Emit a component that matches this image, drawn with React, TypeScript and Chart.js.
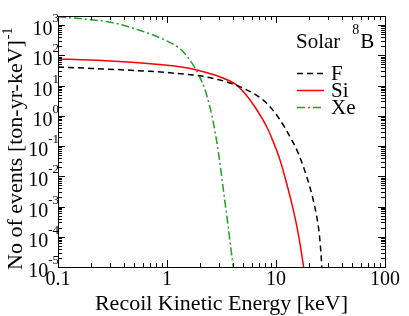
import React, { useEffect, useRef } from "react";
import { Chart, registerables } from "chart.js";

Chart.register(...registerables);

// ---- data ----
const energyF = [0.1, 0.2, 0.4, 0.7, 1, 1.5, 2, 3, 4, 5, 6.5, 8.22, 10.43, 13.44, 16.26, 19.13, 21.39, 23.63, 25.07, 26.27, 26.7];
const eventsF = [41, 37, 33, 29.5, 27, 23.5, 21, 15.5, 11.5, 8.2, 5, 2.6, 0.914, 0.204, 0.0506, 0.0097, 0.00241, 0.00046, 0.000106, 0.0000117, 0.0000037];

const energySi = [0.1, 0.2, 0.4, 0.7, 1, 1.5, 2, 3, 4.21, 5.19, 6.41, 8.22, 9.39, 10.88, 12.49, 14.41, 16.08, 17.8, 18.65];
const eventsSi = [76, 70, 61, 53, 47, 39, 31, 20, 11.3, 5.47, 1.96, 0.436, 0.145, 0.0346, 0.006, 0.00077, 0.000115, 0.0000117, 0.0000037];

const energyXe = [0.1, 0.2, 0.3, 0.55, 0.96, 1.3, 1.57, 1.87, 2.0, 2.2, 2.4, 2.6, 2.8, 3.0, 3.3, 3.6, 3.9, 4.2];
const eventsXe = [1900, 1500, 1250, 690, 320, 170, 82, 31, 19, 8.5, 3.0, 0.9, 0.22, 0.045, 0.0033, 0.0003, 0.00003, 0.000004];

const seriesNames = ["F", "Si", "Xe"];
const xTickValues = [0.1, 1, 10, 100];
const xTickLabels = ["0.1", "1", "10", "100"];
const yTickExponents = [-5, -4, -3, -2, -1, 0, 1, 2, 3];
const xTitle = "Recoil Kinetic Energy [keV]";
const yTitle = "No of events [ton-yr-keV]";
const yTitleSup = "-1";
const legendTitle = "Solar";
const legendTitleSup = "8";
const legendTitleEnd = "B";

const X_MIN = 0.1;
const X_MAX = 100;
const Y_MIN = 1e-5;
const Y_MAX = 2000;

const FONT = '"Liberation Serif", "DejaVu Serif", serif';
const COLORS = ["#000000", "#ff0000", "#22a022"];
const DASHES: number[][] = [[6, 4], [], [8, 3, 2, 3]];

const decorPlugin = {
  id: "decor",
  afterDraw(chart: any) {
    const ctx: CanvasRenderingContext2D = chart.ctx;
    const a = chart.chartArea;
    const xs = chart.scales.x;
    const ys = chart.scales.y;
    ctx.save();
    ctx.strokeStyle = "#000";
    ctx.fillStyle = "#000";
    ctx.lineWidth = 1;
    ctx.setLineDash([]);
    ctx.strokeRect(Math.round(a.left) + 0.5, Math.round(a.top) + 0.5, Math.round(a.right - a.left), Math.round(a.bottom - a.top));

    ctx.beginPath();
    for (let d = -1; d <= 2; d++) {
      for (let m = 1; m <= 9; m++) {
        const v = m * Math.pow(10, d);
        if (v > X_MAX * 1.0001) break;
        const px = Math.round(xs.getPixelForValue(v)) + 0.5;
        const len = m === 1 ? 7 : 4;
        ctx.moveTo(px, a.bottom);
        ctx.lineTo(px, a.bottom - len);
        ctx.moveTo(px, a.top);
        ctx.lineTo(px, a.top + len);
      }
    }
    for (let d = -5; d <= 3; d++) {
      for (let m = 1; m <= 9; m++) {
        const v = m * Math.pow(10, d);
        if (v > Y_MAX * 1.0001) break;
        const py = Math.round(ys.getPixelForValue(v)) + 0.5;
        const len = m === 1 ? 7 : 4;
        ctx.moveTo(a.left, py);
        ctx.lineTo(a.left + len, py);
        ctx.moveTo(a.right, py);
        ctx.lineTo(a.right - len, py);
      }
    }
    ctx.stroke();

    ctx.font = `20px ${FONT}`;
    ctx.textAlign = "center";
    ctx.textBaseline = "alphabetic";
    xTickValues.forEach((v, i) => {
      const px = xs.getPixelForValue(v);
      ctx.fillText(xTickLabels[i], px, 285);
    });

    ctx.textAlign = "left";
    yTickExponents.forEach((e) => {
      const py = ys.getPixelForValue(Math.pow(10, e));
      const sup = String(e);
      ctx.font = `13px ${FONT}`;
      const supW = ctx.measureText(sup).width;
      ctx.font = `20px ${FONT}`;
      const baseW = ctx.measureText("10").width;
      const right = a.left + 1;
      ctx.fillText("10", right - supW - baseW, py + 10);
      ctx.font = `13px ${FONT}`;
      ctx.fillText(sup, right - supW, py - 3);
    });

    ctx.font = `22px ${FONT}`;
    ctx.textAlign = "center";
    ctx.fillText(xTitle, (a.left + a.right) / 2, 310);

    ctx.save();
    ctx.translate(22, 270);
    ctx.rotate(-Math.PI / 2);
    ctx.textAlign = "left";
    ctx.font = `22px ${FONT}`;
    const tw = ctx.measureText(yTitle).width;
    ctx.fillText(yTitle, 0, 0);
    ctx.font = `14px ${FONT}`;
    ctx.fillText(yTitleSup, tw + 1, -10);
    ctx.restore();

    ctx.textAlign = "left";
    ctx.font = `21px ${FONT}`;
    ctx.fillText(legendTitle, 296, 48);
    const sw = ctx.measureText(legendTitle).width;
    ctx.font = `14px ${FONT}`;
    const supX = 296 + sw + 12;
    ctx.fillText(legendTitleSup, supX, 34);
    const s8 = ctx.measureText(legendTitleSup).width;
    ctx.font = `21px ${FONT}`;
    ctx.fillText(legendTitleEnd, supX + s8 + 1, 48);

    const rows = [73, 90, 107];
    seriesNames.forEach((name, i) => {
      const y = rows[i] + 0.5;
      ctx.strokeStyle = COLORS[i];
      ctx.lineWidth = 1.5;
      ctx.setLineDash(DASHES[i]);
      ctx.beginPath();
      ctx.moveTo(297, y);
      ctx.lineTo(324, y);
      ctx.stroke();
      ctx.setLineDash([]);
      ctx.font = `21px ${FONT}`;
      ctx.fillStyle = "#000";
      ctx.fillText(name, 331, rows[i] + 7);
    });
    ctx.restore();
  },
};

export default function App() {
  const ref = useRef<HTMLCanvasElement | null>(null);
  useEffect(() => {
    document.body.style.margin = "0";
    let chart: Chart | null = null;
    let cancelled = false;
    const build = () => {
      if (cancelled || !ref.current) return;
      const mk = (xs: number[], ys: number[]) => xs.map((x, i) => ({ x, y: ys[i] }));
      chart = new Chart(ref.current, {
        type: "scatter",
        data: {
          datasets: [
            { label: seriesNames[0], data: mk(energyF, eventsF) },
            { label: seriesNames[1], data: mk(energySi, eventsSi) },
            { label: seriesNames[2], data: mk(energyXe, eventsXe) },
          ].map((d, i) => ({
            ...d,
            showLine: true,
            borderColor: COLORS[i],
            backgroundColor: COLORS[i],
            borderWidth: 1.5,
            borderDash: DASHES[i],
            pointRadius: 0,
            cubicInterpolationMode: "monotone" as const,
            fill: false,
          })),
        },
        options: {
          animation: false,
          responsive: false,
          devicePixelRatio: 1,
          events: [],
          layout: { padding: { left: 58, top: 16, right: 24, bottom: 49 } },
          plugins: { legend: { display: false }, tooltip: { enabled: false } },
          scales: {
            x: { type: "logarithmic", min: X_MIN, max: X_MAX, display: false },
            y: { type: "logarithmic", min: Y_MIN, max: Y_MAX, display: false },
          },
        },
        plugins: [decorPlugin],
      });
    };
    const fonts: any = (document as any).fonts;
    if (fonts && fonts.load) {
      Promise.all([
        fonts.load(`20px "Liberation Serif"`),
        fonts.load(`13px "Liberation Serif"`),
      ]).then(build, build);
    } else {
      build();
    }
    return () => {
      cancelled = true;
      if (chart) chart.destroy();
    };
  }, []);
  return (
    <div style={{ width: 409, height: 316, background: "#fff" }}>
      <canvas ref={ref} width={409} height={316} style={{ display: "block" }} />
    </div>
  );
}
